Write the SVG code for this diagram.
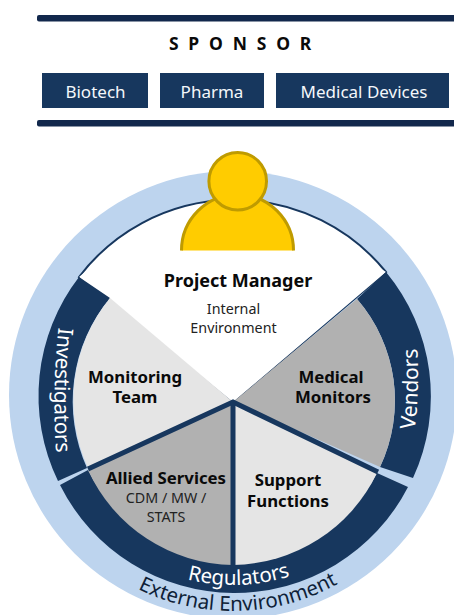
<svg xmlns="http://www.w3.org/2000/svg" width="454" height="615" viewBox="0 0 454 615">
<style>
text{font-family:"Noto Sans","Liberation Sans",sans-serif;}
.nav{fill:#17375e;}
.bar{fill:#12284c;}
.w{fill:#f4f7fb;font-size:17px;text-anchor:middle;}
.c{fill:#fff;font-size:20.5px;}
.b{fill:#0a0a0a;font-size:16.8px;font-weight:700;text-anchor:middle;}
.s{fill:#222;font-size:14.3px;text-anchor:middle;}
</style>
<defs>
<path id="inv" d="M58.500,328 Q52,390 56,452"/>
<path id="ven" d="M415,428 Q419.500,390 417.500,350"/>
<path id="r189" d="M233,207 A189,189 0 1 0 233,585 A189,189 0 1 0 233,207"/>
<path id="r216" d="M233,179 A216,216 0 1 0 233,611 A216,216 0 1 0 233,179"/>
</defs>
<g id="sponsor">
<rect class="bar" x="37" y="15" width="420" height="6.5" rx="2"/>
<rect class="bar" x="37" y="120" width="420" height="6.5" rx="2"/>
<text x="245" y="50" text-anchor="middle" style="font-size:17.5px;font-weight:700;letter-spacing:9.8px;fill:#0a0a0a">SPONSOR</text>
</g>
<g id="biotech"><rect class="nav" x="42" y="73" width="106" height="35"/><text class="w" x="95.500" y="97.500">Biotech</text></g>
<g id="pharma"><rect class="nav" x="160" y="73" width="104" height="35"/><text class="w" x="212" y="97.500">Pharma</text></g>
<g id="devices"><rect class="nav" x="276" y="73" width="173" height="35"/><text class="w" x="364" y="97.500">Medical Devices</text></g>
<g id="external"><circle cx="233" cy="395" r="224" fill="#bdd4ee"/>
<text fill="#0f1f38" style="font-size:20.500px" text-anchor="middle"><textPath href="#r216" startOffset="50.400%">External Environment</textPath></text></g>
<g id="project-manager">
<path d="M79,277 A195,195 0 0 1 386,272 L233,402 Z" fill="#fff" stroke="#17375e" stroke-width="2"/>
<path d="M79,277 L233,402 L386,272 L380,268 L233,395 L85,272 Z" fill="#fff"/>
<text x="238" y="287" style="font-size:18px;font-weight:700;text-anchor:middle;fill:#0a0a0a">Project Manager</text>
<text class="s" x="233.500" y="314">Internal</text>
<text class="s" x="233.500" y="333">Environment</text>
</g>
<g id="person">
<path d="M181.500,250.500 A56,56 0 0 1 293.500,250.500 Z" fill="#ffcc00"/>
<path d="M181.500,250.500 A56,56 0 0 1 293.500,250.500" fill="none" stroke="#bf9b00" stroke-width="3"/>
<circle cx="237.700" cy="181.300" r="28.800" fill="#ffcc00" stroke="#bf9b00" stroke-width="3"/>
</g>
<g id="investigators">
<path class="nav" d="M79,277 A195,195 0 0 0 58,481 L87,468 A162,162 0 0 1 110,298 Z"/>
<text class="c" style="font-size:21px;letter-spacing:-0.35px"><textPath href="#inv" startOffset="50%" text-anchor="middle">Investigators</textPath></text>
</g>
<g id="vendors">
<path class="nav" d="M386,272 A195,195 0 0 1 413,478 L380,467 A155,155 0 0 0 357,299 Z"/>
<text class="c" style="font-size:21px"><textPath href="#ven" startOffset="50%" text-anchor="middle">Vendors</textPath></text>
</g>
<g id="regulators">
<path class="nav" d="M60,485 A195,195 0 0 0 408,487 L377,473 A162,162 0 0 1 88,470 Z"/>
<text class="c"><textPath href="#r189" startOffset="50.500%" text-anchor="middle">Regulators</textPath></text>
</g>
<g id="monitoring-team">
<path d="M110,298 L233,402 L88,468 A162,162 0 0 1 110,298 Z" fill="#e5e5e5"/>
<text class="b" x="135" y="383">Monitoring</text><text class="b" x="135" y="403">Team</text>
</g>
<g id="allied-services">
<path d="M88,470 L233,402 L233,565 A162,162 0 0 1 88,470 Z" fill="#b1b1b1"/>
<text class="b" x="166" y="484">Allied Services</text>
<text class="s" x="166" y="503">CDM / MW /</text><text class="s" x="166" y="522">STATS</text>
</g>
<g id="support-functions">
<path d="M233,402 L377,473 A162,162 0 0 1 233,565 Z" fill="#e5e5e5"/>
<text class="b" x="288" y="486">Support</text><text class="b" x="288" y="507">Functions</text>
</g>
<g id="medical-monitors">
<path d="M233,402 L357,299 A155,155 0 0 1 380,467 Z" fill="#b1b1b1"/>
<text class="b" x="331" y="383">Medical</text><text class="b" x="333" y="403">Monitors</text>
</g>
<g id="connectors" stroke="#17375e" stroke-width="5" fill="none">
<path d="M88,469 L233,402 L378,472"/>
<path d="M233,402 V566"/>
</g>
</svg>
